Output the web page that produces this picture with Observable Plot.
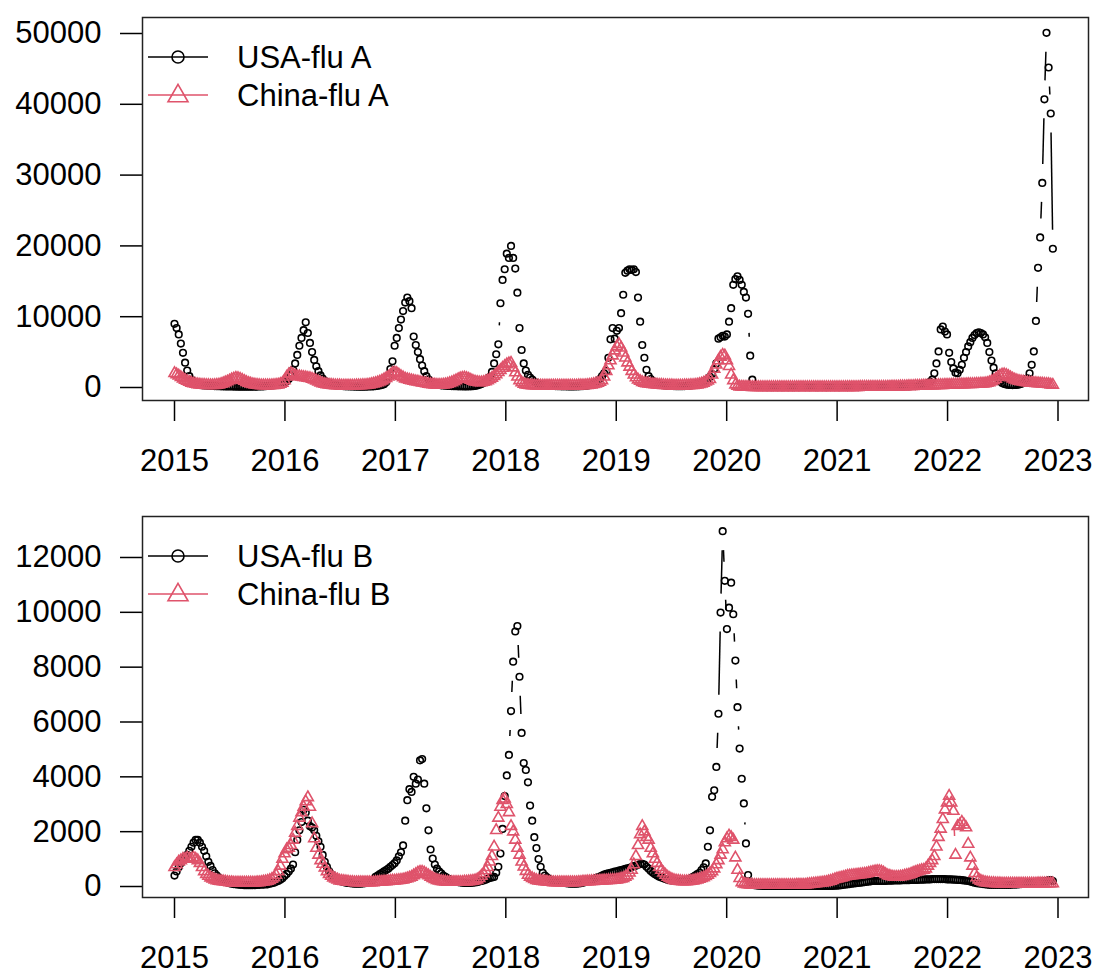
<!DOCTYPE html>
<html>
<head>
<meta charset="utf-8">
<script src="https://cdn.jsdelivr.net/npm/d3@7"></script>
<script src="https://cdn.jsdelivr.net/npm/@observablehq/plot@0.6"></script>
<style>
  html, body { margin: 0; padding: 0; background: #fff; }
  #chart { width: 1096px; }
  #chart svg { display: block; }
  #chart svg .tick line, #chart svg g[aria-label$="tick"] path { stroke-width: 1.5px; }
</style>
</head>
<body>
<div id="chart"></div>
<script>
// ---------------- data (weekly, starting first week of 2015) ----------------
const xTicks = [2015, 2016, 2017, 2018, 2019, 2020, 2021, 2022, 2023];
const yTicksA = [0, 10000, 20000, 30000, 40000, 50000];
const yTicksB = [0, 2000, 4000, 6000, 8000, 10000, 12000];
const legendA = ["USA-flu A", "China-flu A"];
const legendB = ["USA-flu B", "China-flu B"];

const usaFluA = [
  // 2015
  9000, 8400, 7500, 6200, 4900, 3500, 2400, 1600, 1100, 800, 600, 450, 380,
  330, 300, 280, 260, 240, 220, 200, 190, 180, 170, 160, 150, 150,
  140, 140, 130, 130, 120, 120, 120, 110, 110, 110, 110, 120, 120,
  130, 140, 150, 170, 190, 210, 240, 280, 330, 390, 460, 540, 620,
  // 2016
  720, 900, 1200, 1700, 2500, 3400, 4600, 5900, 7000, 8100, 9200, 7700, 6300,
  5000, 3900, 3000, 2300, 1700, 1250, 950, 720, 560, 450, 370, 310, 270,
  240, 210, 190, 170, 160, 150, 140, 130, 130, 120, 120, 120, 120,
  130, 140, 150, 170, 200, 240, 290, 360, 460, 750, 1500, 2600, 3700,
  // 2017
  5900, 7000, 8400, 9600, 10800, 12000, 12700, 12200, 11200, 7200, 6000, 5000, 4000,
  3100, 2300, 1600, 1150, 850, 650, 520, 420, 360, 310, 280, 250, 230,
  210, 200, 190, 180, 170, 160, 160, 150, 150, 160, 170, 190, 220,
  300, 380, 480, 620, 800, 1050, 1500, 2200, 3400, 4700, 6100, 11900, 15200,
  // 2018
  16700, 18900, 18300, 20000, 18300, 16800, 13400, 8400, 5300, 3400, 2400, 1800, 1400,
  1100, 850, 650, 520, 430, 370, 320, 280, 250, 230, 210, 200, 190,
  180, 170, 160, 160, 150, 150, 150, 150, 160, 170, 180, 200, 230,
  270, 320, 400, 500, 650, 900, 1200, 1600, 2000, 2300, 4200, 6800, 8400,
  // 2019
  6900, 8000, 8400, 10500, 13100, 16200, 16500, 16700, 16600, 16700, 16300, 12700, 9300,
  6000, 4200, 2500, 1600, 1200, 900, 700, 550, 450, 380, 330, 290, 260,
  240, 220, 200, 190, 180, 180, 190, 200, 230, 260, 300, 350, 420,
  500, 600, 700, 850, 1000, 1200, 1500, 1900, 2600, 3400, 6900, 7100, 7300,
  // 2020
  7200, 7500, 9300, 11200, 14500, 15300, 15700, 15200, 14500, 13500, 12700, 10400, 4500,
  1100, 300, 150, 100, 80, 60, 90, 50, 70, 40, 60, 80, 50,
  70, 40, 60, 90, 50, 70, 40, 60, 80, 50, 70, 100, 60,
  80, 50, 70, 90, 60, 40, 80, 60, 90, 50, 70, 60, 80,
  // 2021
  60, 80, 50, 90, 70, 100, 60, 80, 110, 70, 90, 60, 80,
  100, 70, 90, 120, 80, 100, 70, 110, 90, 130, 100, 120, 90,
  110, 140, 100, 130, 120, 150, 130, 160, 180, 170, 200, 220, 200,
  250, 300, 380, 450, 530, 620, 800, 1100, 2000, 3400, 5100, 8200, 8600,
  // 2022
  7900, 7500, 4900, 3600, 2700, 2100, 2000, 2500, 3200, 4200, 5000, 5800, 6400,
  7000, 7400, 7700, 7800, 7700, 7500, 7100, 6300, 5000, 3800, 2800, 2000, 1300,
  900, 650, 500, 420, 380, 350, 340, 350, 380, 420, 500, 650, 900,
  1300, 2000, 3200, 5100, 9400, 16900, 21200, 28900, 40700, 50100, 45200, 38700, 19600
];

const chinaFluA = [
  // 2015
  2000, 1850, 1650, 1450, 1250, 1050, 900, 760, 640, 550, 480, 430, 390,
  360, 340, 320, 310, 300, 300, 310, 340, 400, 480, 580, 700, 830,
  970, 1120, 1250, 1330, 1300, 1200, 1050, 900, 750, 620, 520, 440, 380,
  340, 310, 290, 280, 280, 280, 290, 300, 320, 350, 400, 480, 620,
  // 2016
  1000, 1500, 1850, 2000, 1850, 1700, 1600, 1550, 1500, 1450, 1400, 1350, 1300,
  1200, 1100, 950, 800, 680, 570, 480, 420, 370, 340, 310, 290, 280,
  270, 260, 260, 250, 250, 250, 250, 260, 270, 280, 290, 310, 330,
  360, 400, 450, 520, 600, 700, 820, 960, 1120, 1300, 1500, 1750, 2000,
  // 2017
  2100, 2000, 1800, 1600, 1400, 1250, 1150, 1050, 980, 920, 860, 800, 740,
  680, 620, 560, 500, 450, 410, 380, 350, 340, 350, 380, 430, 500,
  600, 720, 850, 1000, 1150, 1280, 1350, 1380, 1320, 1200, 1050, 920, 820,
  760, 720, 720, 760, 850, 980, 1150, 1350, 1600, 1850, 2150, 2450, 2750,
  // 2018
  3000, 3250, 3400, 3450, 2800, 2100, 1500, 1000, 700, 500, 400, 340, 300,
  280, 270, 260, 250, 250, 240, 240, 240, 240, 240, 240, 240, 240,
  240, 240, 240, 240, 250, 250, 250, 260, 260, 270, 280, 290, 300,
  330, 360, 400, 460, 540, 640, 760, 1000, 1500, 2300, 3100, 3800, 4500,
  // 2019
  5200, 5800, 6100, 5600, 4900, 4200, 3500, 2900, 2300, 1800, 1400, 1100, 900,
  750, 650, 580, 520, 480, 440, 410, 380, 360, 340, 320, 300, 290,
  280, 270, 260, 260, 260, 260, 260, 270, 280, 290, 310, 330, 360,
  400, 460, 540, 650, 800, 950, 1150, 1800, 2600, 3200, 3800, 4300, 4600,
  // 2020
  4500, 3800, 3000, 1800, 1000, 400, 200, 120, 90, 80, 70, 60, 60,
  50, 50, 50, 40, 40, 40, 40, 40, 40, 40, 40, 40, 40,
  40, 40, 40, 40, 40, 40, 40, 40, 40, 40, 40, 40, 40,
  40, 40, 40, 40, 40, 40, 40, 40, 40, 40, 40, 40, 40,
  // 2021
  40, 40, 40, 40, 40, 50, 50, 50, 50, 50, 50, 50, 60,
  60, 60, 60, 60, 60, 70, 70, 70, 70, 80, 80, 80, 90,
  90, 100, 100, 110, 120, 130, 140, 150, 160, 170, 180, 190, 200,
  210, 220, 230, 240, 250, 260, 270, 280, 290, 300, 310, 320, 330,
  // 2022
  340, 350, 360, 370, 380, 390, 400, 410, 420, 430, 440, 450, 460,
  470, 480, 490, 500, 520, 540, 570, 620, 700, 850, 1000, 1200, 1450,
  1650, 1800, 1850, 1750, 1600, 1400, 1250, 1100, 1000, 900, 850, 800, 750,
  700, 680, 650, 620, 600, 580, 550, 520, 500, 480, 450, 400, 350
];

const usaFluB = [
  // 2015
  400, 550, 700, 850, 950, 1050, 1150, 1300, 1450, 1600, 1700, 1700, 1600,
  1450, 1300, 1100, 900, 750, 600, 480, 400, 320, 280, 220, 180, 150,
  120, 100, 90, 80, 70, 60, 60, 50, 50, 50, 50, 50, 50,
  55, 60, 65, 70, 75, 80, 100, 120, 140, 170, 200, 250, 300,
  // 2016
  380, 460, 550, 650, 800, 1250, 1700, 2050, 2350, 2800, 2700, 2400, 2200,
  2150, 2050, 1850, 1650, 1450, 1150, 900, 720, 560, 450, 370, 300, 250,
  210, 180, 160, 140, 130, 120, 110, 100, 100, 100, 100, 110, 120,
  130, 160, 200, 250, 350, 400, 450, 500, 550, 600, 650, 720, 780,
  // 2017
  850, 950, 1100, 1250, 1500, 2400, 3150, 3550, 3450, 4000, 3750, 3900, 4600,
  4650, 3750, 2850, 2050, 1350, 1020, 800, 650, 550, 480, 400, 350, 300,
  260, 230, 200, 180, 160, 150, 140, 130, 130, 130, 130, 140, 150,
  160, 180, 200, 220, 250, 280, 310, 330, 350, 500, 720, 1200, 2100,
  // 2018
  3300, 4050, 4800, 6400, 8200, 9300, 9500, 7650, 5600, 4500, 4250, 3800, 2950,
  2400, 1800, 1400, 1000, 720, 500, 400, 330, 280, 240, 210, 190, 170,
  150, 140, 130, 120, 110, 100, 100, 100, 100, 110, 120, 140, 160,
  200, 220, 240, 270, 300, 330, 360, 400, 430, 460, 480, 500, 520,
  // 2019
  540, 550, 580, 600, 620, 640, 660, 680, 710, 740, 760, 790, 820,
  830, 800, 720, 650, 570, 500, 450, 400, 360, 330, 300, 270, 250,
  230, 220, 210, 200, 200, 200, 210, 220, 240, 270, 300, 350, 400,
  450, 500, 600, 700, 840, 1450, 2050, 3270, 3510, 4360, 6300, 9990, 12960,
  // 2020
  11150, 9390, 10170, 11080, 9930, 8240, 6540, 5030, 3930, 3030, 1570, 420, 150,
  80, 50, 40, 30, 30, 20, 20, 20, 20, 20, 20, 20, 20,
  20, 20, 20, 20, 20, 20, 20, 20, 20, 20, 20, 20, 20,
  20, 20, 20, 20, 20, 20, 20, 20, 20, 20, 20, 20, 20,
  // 2021
  30, 30, 40, 50, 60, 70, 80, 90, 100, 110, 120, 130, 140,
  150, 160, 170, 180, 190, 200, 200, 200, 200, 200, 200, 200, 210,
  210, 210, 220, 220, 220, 220, 230, 230, 230, 230, 240, 240, 240,
  240, 250, 250, 250, 260, 260, 260, 270, 270, 270, 270, 270, 270,
  // 2022
  270, 260, 260, 260, 250, 250, 240, 240, 230, 220, 210, 200, 180,
  160, 140, 120, 110, 100, 90, 80, 70, 60, 60, 60, 60, 60,
  60, 60, 60, 60, 60, 60, 70, 70, 80, 80, 90, 100, 110,
  120, 130, 140, 150, 160, 170, 180, 190, 200, 210, 220, 230, 200
];

const chinaFluB = [
  // 2015
  700, 800, 900, 950, 1000, 1000, 1050, 1000, 1000, 1050, 1000, 950, 850,
  700, 550, 450, 380, 320, 280, 250, 220, 200, 190, 180, 170, 160,
  150, 150, 140, 140, 140, 140, 140, 140, 140, 140, 140, 140, 140,
  150, 150, 160, 170, 180, 200, 230, 270, 330, 420, 550, 750, 1000,
  // 2016
  1200, 1350, 1400, 1500, 1700, 1950, 2200, 2500, 2700, 2900, 3100, 3250, 2900,
  2300, 1750, 1400, 1150, 950, 820, 680, 550, 450, 380, 320, 280, 250,
  210, 200, 190, 180, 170, 160, 160, 150, 150, 150, 150, 150, 150,
  150, 150, 150, 150, 160, 160, 170, 170, 180, 180, 190, 200, 210,
  // 2017
  210, 220, 230, 240, 250, 270, 290, 320, 350, 400, 450, 500, 530,
  530, 500, 450, 400, 350, 300, 260, 230, 210, 190, 180, 170, 160,
  160, 160, 160, 160, 160, 160, 160, 170, 170, 180, 190, 200, 220,
  250, 300, 380, 470, 580, 700, 900, 1100, 1450, 2050, 2500, 2900, 3150,
  // 2018
  3200, 3000, 2700, 2200, 2000, 1700, 1400, 1150, 900, 720, 560, 420, 350,
  300, 260, 230, 210, 200, 190, 180, 170, 160, 160, 150, 150, 150,
  150, 150, 150, 150, 150, 150, 150, 150, 150, 160, 160, 170, 170,
  180, 180, 190, 190, 200, 200, 210, 210, 220, 220, 230, 230, 240,
  // 2019
  240, 250, 260, 280, 300, 350, 400, 500, 600, 800, 1100, 1500, 1900,
  2200, 2000, 1800, 1700, 1400, 1200, 1000, 850, 700, 600, 500, 420, 350,
  300, 260, 230, 210, 200, 190, 180, 180, 180, 190, 200, 210, 230,
  250, 270, 300, 330, 370, 420, 480, 550, 650, 800, 950, 1150, 1350,
  // 2020
  1600, 1750, 1850, 1800, 1700, 1050, 600, 300, 150, 100, 80, 70, 60,
  60, 50, 50, 50, 50, 50, 50, 50, 50, 50, 50, 50, 50,
  50, 50, 50, 50, 50, 50, 50, 50, 60, 60, 60, 60, 60,
  70, 80, 90, 100, 110, 120, 130, 140, 150, 160, 180, 200, 230,
  // 2021
  260, 280, 300, 320, 340, 360, 380, 390, 400, 410, 420, 430, 440,
  450, 460, 470, 490, 510, 530, 550, 560, 560, 540, 500, 450, 400,
  380, 360, 350, 350, 350, 360, 370, 390, 410, 430, 460, 490, 520,
  550, 570, 590, 600, 650, 750, 850, 950, 1100, 1450, 1800, 2100, 2450,
  // 2022
  2800, 3050, 3300, 3050, 2750, 1150, 2200, 2250, 2350, 2250, 2150, 1550, 1050,
  750, 480, 330, 250, 200, 170, 150, 140, 130, 120, 120, 110, 110,
  110, 100, 100, 100, 100, 100, 100, 100, 100, 100, 100, 100, 100,
  100, 100, 100, 100, 100, 110, 110, 110, 110, 110, 110, 110, 110
];

// ---------------- layout ----------------
const N = 416;
[usaFluA, chinaFluA, usaFluB, chinaFluB].forEach((a, k) => {
  if (a.length !== N) throw new Error("series " + k + " has length " + a.length);
});
const weekX = d3.range(N).map(i => 2015 + i * 7 / 365.25);

const W = 1096, ML = 142, MR = 8;
const X_DOMAIN = [2014.7102, 2023.2762];
const RED = "#DF536B";
const FONT = "'Liberation Sans', Arial, Helvetica, sans-serif";
const GAP = 19; // R type = "b": gap (px) left around each point

function toRows(values) {
  return values.map((v, i) => ({x: weekX[i], y: v}));
}

// shortened segments between consecutive points (R type "b")
function gapSegments(rows, xs, ys) {
  const out = [];
  for (let i = 0; i < rows.length - 1; i++) {
    const a = rows[i], b = rows[i + 1];
    const px1 = xs(a.x), py1 = ys(a.y), px2 = xs(b.x), py2 = ys(b.y);
    const dx = px2 - px1, dy = py2 - py1, L = Math.hypot(dx, dy);
    if (L <= 2 * GAP) continue;
    const f = GAP / L;
    out.push({
      x1: xs.invert(px1 + dx * f), y1: ys.invert(py1 + dy * f),
      x2: xs.invert(px2 - dx * f), y2: ys.invert(py2 - dy * f)
    });
  }
  return out;
}

function panel({usa, china, yDomain, yTicks, height, marginTop, marginBottom, labels, legendTop}) {
  const xs = d3.scaleLinear().domain(X_DOMAIN).range([ML, W - MR]);
  const ys = d3.scaleLinear().domain(yDomain).range([height - marginBottom, marginTop]);
  const usaRows = toRows(usa), chinaRows = toRows(china);
  const svg = Plot.plot({
    width: W, height, marginLeft: ML, marginRight: MR, marginTop, marginBottom,
    style: {fontFamily: FONT, fontSize: "31px", color: "black", background: "white", overflow: "visible"},
    x: {domain: X_DOMAIN, ticks: xTicks, tickFormat: d => String(d), tickSize: 21, tickPadding: 27, label: null},
    y: {domain: yDomain, ticks: yTicks, tickFormat: d => String(d), tickSize: 22, tickPadding: 19, label: null},
    marks: [
      Plot.link(gapSegments(usaRows, xs, ys), {x1: "x1", y1: "y1", x2: "x2", y2: "y2", stroke: "black", strokeWidth: 1.5}),
      Plot.dot(usaRows, {x: "x", y: "y", r: 3.3, stroke: "black", fill: "none", strokeWidth: 1.6}),
      Plot.link(gapSegments(chinaRows, xs, ys), {x1: "x1", y1: "y1", x2: "x2", y2: "y2", stroke: RED, strokeWidth: 1.5}),
      Plot.dot(chinaRows, {x: "x", y: "y", r: 4.1, symbol: "triangle", stroke: RED, fill: "none", strokeWidth: 1.6}),
      Plot.frame({stroke: "#222", strokeWidth: 1.5})
    ]
  });

  // legend (inside plot, top-left, no box)
  const g = d3.select(svg).append("g").attr("aria-label", "legend");
  const rows = [
    {label: labels[0], color: "black", sym: "circle"},
    {label: labels[1], color: RED, sym: "triangle"}
  ];
  rows.forEach((r, k) => {
    const cy = legendTop + k * 38;
    g.append("line").attr("x1", 148).attr("x2", 208).attr("y1", cy).attr("y2", cy)
      .attr("stroke", r.color).attr("stroke-width", 1.5);
    if (r.sym === "circle") {
      g.append("circle").attr("cx", 178).attr("cy", cy).attr("r", 6)
        .attr("fill", "none").attr("stroke", r.color).attr("stroke-width", 1.6);
    } else {
      g.append("path").attr("d", d3.symbol(d3.symbolTriangle, 173)())
        .attr("transform", `translate(178,${cy + 1})`)
        .attr("fill", "none").attr("stroke", r.color).attr("stroke-width", 1.6);
    }
    g.append("text").attr("x", 237).attr("y", cy).attr("dy", "0.36em")
      .attr("text-anchor", "start")
      .attr("fill", "black").style("font-family", FONT).style("font-size", "31px")
      .text(r.label);
  });
  return svg;
}

const chart = document.getElementById("chart");
chart.appendChild(panel({
  usa: usaFluA, china: chinaFluA, yDomain: [-1836, 52260], yTicks: yTicksA,
  height: 486, marginTop: 17, marginBottom: 86, labels: legendA, legendTop: 57
}));
chart.appendChild(panel({
  usa: usaFluB, china: chinaFluB, yDomain: [-401, 13495], yTicks: yTicksB,
  height: 487, marginTop: 30, marginBottom: 76, labels: legendB, legendTop: 70
}));
</script>
</body>
</html>
